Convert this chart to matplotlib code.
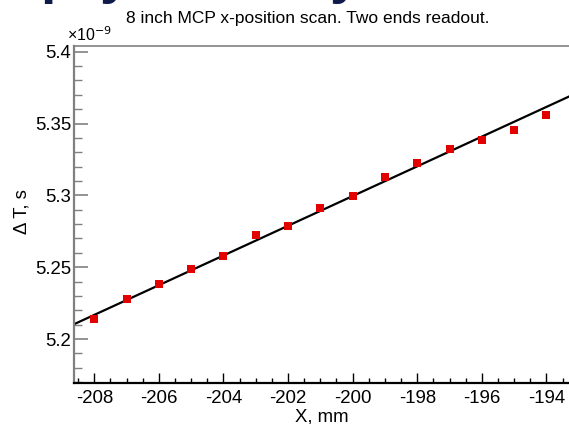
import matplotlib
matplotlib.use("Agg")
import matplotlib.pyplot as plt
from matplotlib.ticker import MultipleLocator, FuncFormatter
import numpy as np

plt.rcParams['font.family'] = ['Liberation Sans', 'DejaVu Sans']

# MCP x-position scan: time difference between the two readout ends (units of 1e-9 s)
x_mm = [-208, -207, -206, -205, -204, -203, -202, -201,
        -200, -199, -198, -197, -196, -195, -194]
delta_t = [5.2139, 5.2280, 5.2380, 5.2491, 5.2578, 5.2724, 5.2786, 5.2909,
           5.2997, 5.3130, 5.3227, 5.3322, 5.3389, 5.3454, 5.3561]

# linear fit: value at reference position and slope per mm
fit_ref_x = -201.0
fit_ref_value = 5.2892
fit_slope = 0.01034

title_text = "8 inch MCP x-position scan. Two ends readout."
xlabel_text = "X, mm"
ylabel_text = "\u0394 T, s"

W, H = 569, 424
fig = plt.figure(figsize=(W / 100, H / 100), dpi=100)
ax = fig.add_axes([0.130, 0.0967, 0.887, 0.7948])

xlim = (-208.63, -193.0)
ax.set_xlim(*xlim)
ax.set_ylim(5.1694, 5.404)

xf = np.array(xlim)
ax.plot(xf, fit_ref_value + fit_slope * (xf - fit_ref_x), color='black', lw=1.6,
        solid_capstyle='butt', zorder=2)
ax.plot(x_mm, delta_t, ls='none', marker='s', ms=5.2, color='#e30000',
        markeredgewidth=0, zorder=3)

# axes styling
ax.spines['right'].set_visible(False)
ax.spines['left'].set_color('#808080')
ax.spines['left'].set_linewidth(1.6)
ax.spines['top'].set_color('#808080')
ax.spines['top'].set_linewidth(1.2)
ax.spines['bottom'].set_color('black')
ax.spines['bottom'].set_linewidth(1.6)

ax.xaxis.set_major_locator(MultipleLocator(2))
ax.xaxis.set_minor_locator(MultipleLocator(0.5))
ax.yaxis.set_major_locator(MultipleLocator(0.05))
ax.yaxis.set_minor_locator(MultipleLocator(0.01))
ax.yaxis.set_major_formatter(FuncFormatter(lambda v, p: f"{v:g}"))
ax.xaxis.set_major_formatter(FuncFormatter(lambda v, p: f"{v:g}"))

ax.tick_params(axis='y', which='major', direction='in', length=10, width=1.2,
               color='#808080', labelsize=13.4, pad=2)
ax.tick_params(axis='y', which='minor', direction='in', length=5.5, width=1.0,
               color='#808080')
ax.tick_params(axis='x', which='major', direction='in', length=7, width=1.0,
               color='black', labelsize=13.4, pad=5)
ax.tick_params(axis='x', which='minor', direction='in', length=3.5, width=1.0,
               color='black')

# axis titles
fig.text(322 / W, 1 - 417 / H, xlabel_text, fontsize=13.4, ha='center', va='center')
fig.text(22 / W, 1 - 212 / H, ylabel_text, fontsize=13.4, rotation=90,
         ha='center', va='center')

fig.text(67 / W, 1 - 35 / H, "\u00d710$^{-9}$", fontsize=11.5, ha='left', va='center')
fig.text(308 / W, 1 - 19 / H, title_text, fontsize=12.5, ha='center', va='center')

# slide heading remnants above the plot
for xpos, ch in [(40, 'p'), (100, 'y'), (330, 'y')]:
    fig.text(xpos / W, 1.0 + 8 / H, ch, fontsize=40, fontweight='bold',
             color='#0d1a4a', ha='left', va='baseline')

fig.savefig("out.png", dpi=100)
